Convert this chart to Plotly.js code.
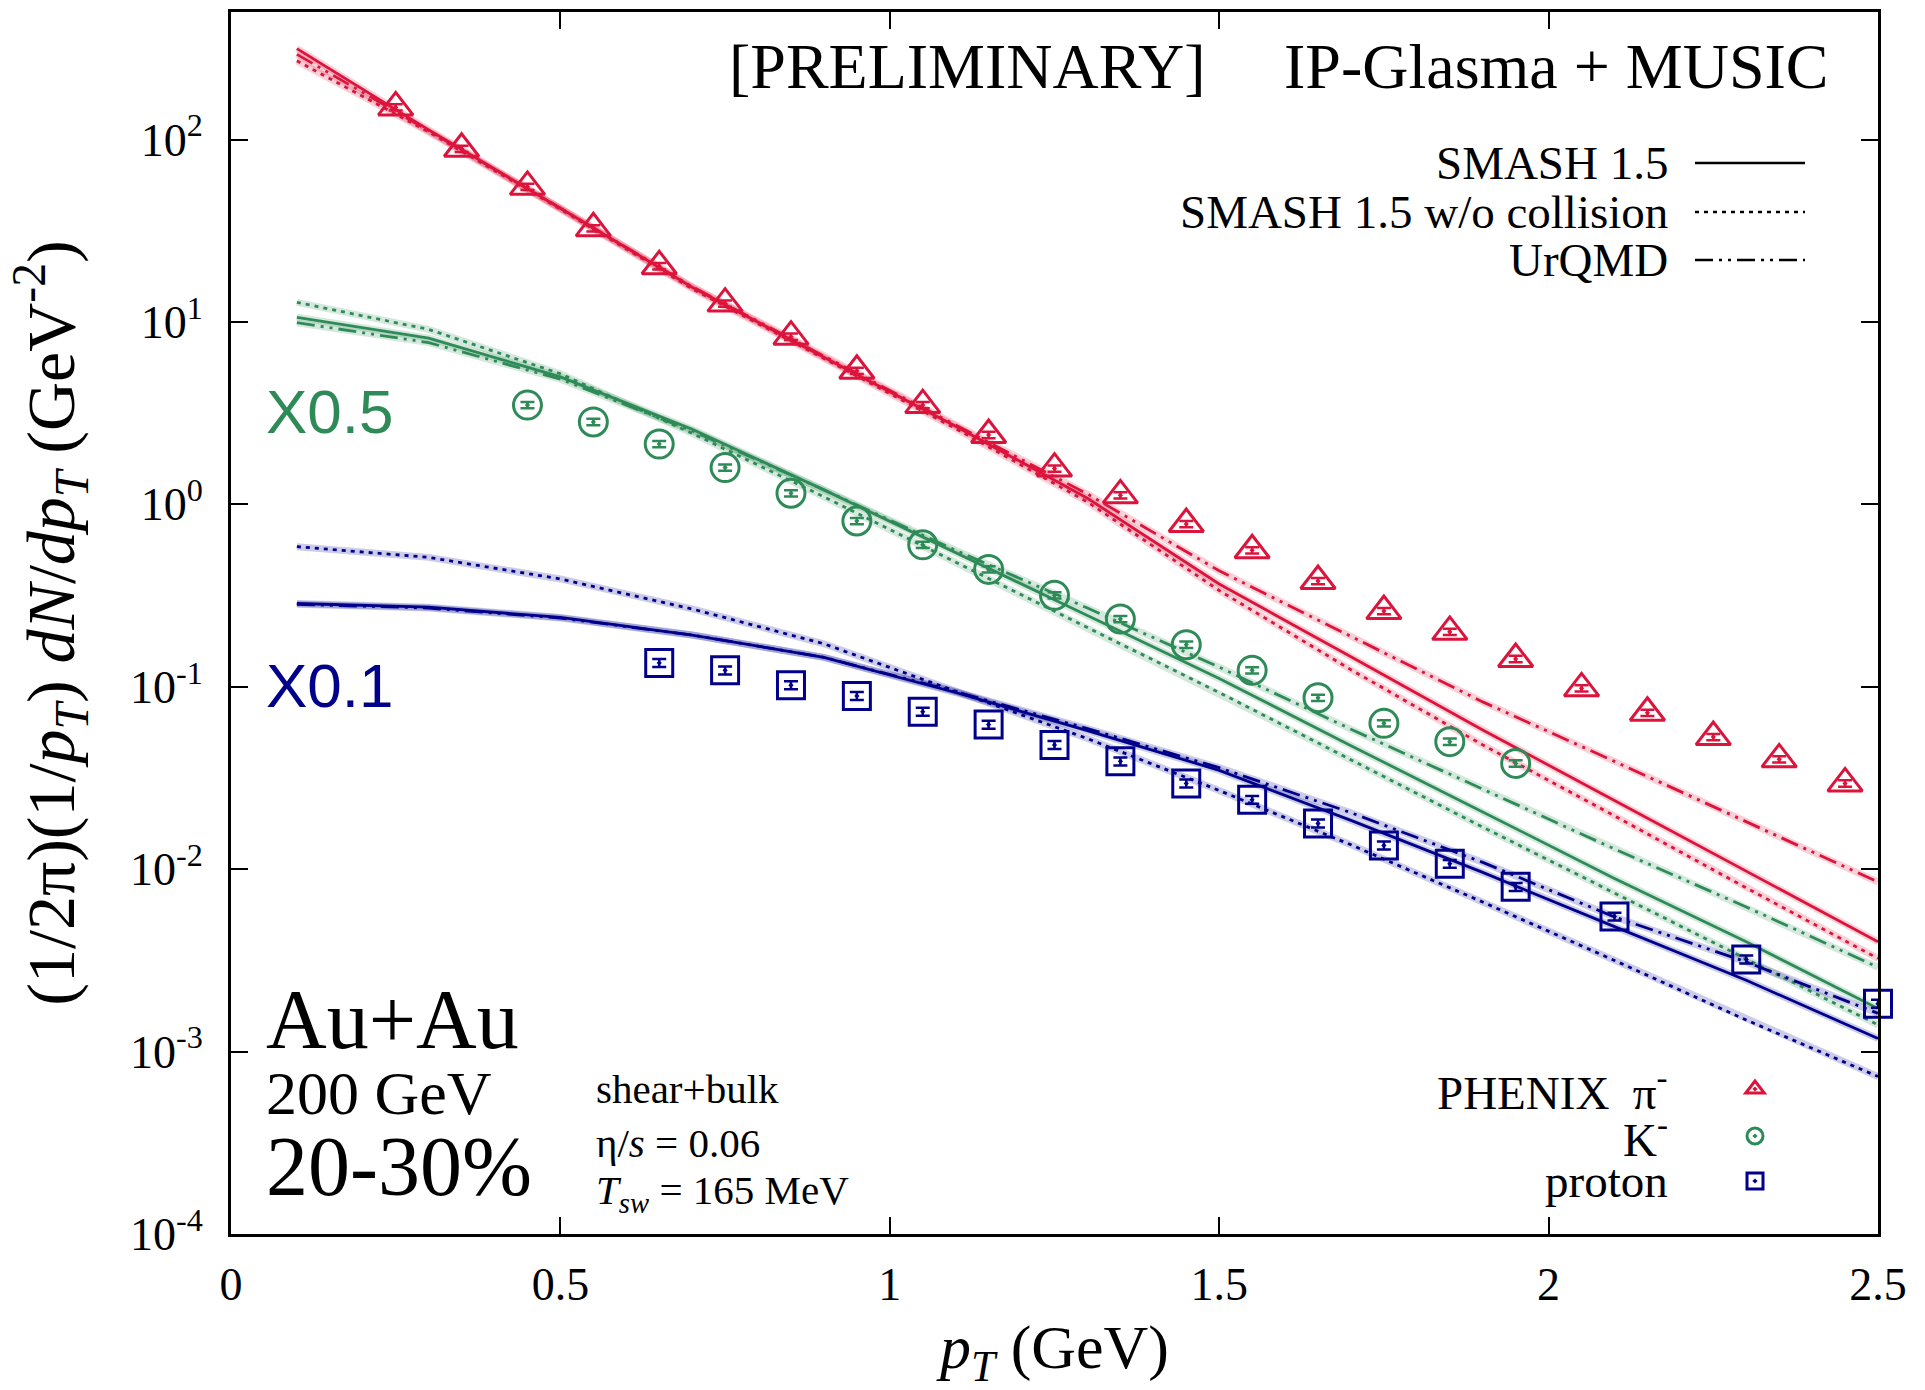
<!DOCTYPE html>
<html><head><meta charset="utf-8">
<script src="https://cdn.plot.ly/plotly-3.0.1.min.js"></script>
<style>html,body{margin:0;padding:0;background:#fff}</style>
</head><body><div id="chart" style="width:1925px;height:1390px"></div>
<script>
// ---- model curves (pT nodes, GeV) ----
const ptModel = [0.1,0.3,0.5,0.7,0.9,1.1,1.3,1.5,1.7,1.9,2.1,2.3,2.5];
const pionSmash       = [315,113,42,15.5,6.4,2.68,1.08,0.366,0.146,0.058,0.0238,0.0098,0.0040];
const pionSmashNoColl = [270,110,41.5,15.2,6.3,2.6,1.03,0.337,0.124,0.048,0.0196,0.0079,0.00324];
const pionUrqmd       = [293,112,42,15.6,6.5,2.72,1.14,0.432,0.189,0.0826,0.039,0.0182,0.0085];
const kaonSmash       = [10.6,8.15,5.0,2.58,1.20,0.545,0.246,0.111,0.0475,0.0206,0.0089,0.0040,0.00172];
const kaonSmashNoColl = [12.8,9.1,5.2,2.45,1.10,0.48,0.211,0.093,0.0396,0.017,0.0074,0.00323,0.0014];
const kaonUrqmd       = [9.9,7.7,4.85,2.53,1.2,0.56,0.27,0.128,0.0585,0.0275,0.0129,0.0062,0.0029];
const protonSmash       = [0.286,0.273,0.24,0.192,0.145,0.093,0.0575,0.0348,0.0185,0.0096,0.00484,0.00246,0.00118];
const protonSmashNoColl = [0.586,0.512,0.39,0.267,0.172,0.095,0.052,0.027,0.0136,0.0066,0.00316,0.00149,0.00073];
const protonUrqmd       = [0.283,0.270,0.238,0.192,0.145,0.094,0.059,0.036,0.0204,0.0109,0.00547,0.0031,0.00162];

// ---- PHENIX data ----
const pionPt   = [0.25,0.35,0.45,0.55,0.65,0.75,0.85,0.95,1.05,1.15,1.25,1.35,1.45,1.55,1.65,1.75,1.85,1.95,2.05,2.15,2.25,2.35,2.45];
const pionData = [150,89,55,32.6,20.2,12.6,8.3,5.4,3.5,2.4,1.57,1.12,0.78,0.56,0.38,0.26,0.20,0.142,0.098,0.072,0.053,0.040,0.0295];
const kaonPt   = [0.45,0.55,0.65,0.75,0.85,0.95,1.05,1.15,1.25,1.35,1.45,1.55,1.65,1.75,1.85,1.95];
const kaonData = [3.5,2.83,2.14,1.59,1.15,0.81,0.60,0.44,0.317,0.235,0.170,0.123,0.087,0.063,0.050,0.038];
const protonPt   = [0.65,0.75,0.85,0.95,1.05,1.15,1.25,1.35,1.45,1.55,1.65,1.75,1.85,1.95,2.1,2.3,2.5];
const protonData = [0.135,0.123,0.102,0.089,0.073,0.062,0.048,0.039,0.0295,0.024,0.0178,0.0135,0.0107,0.0080,0.0055,0.0032,0.00183];
const pionErrPct = 4, kaonErrPct = 4, protonErrPct = 5;

// ---- ticks ----
const xTickVals = [0,0.5,1,1.5,2,2.5];
const xTickText = ['0','0.5','1','1.5','2','2.5'];
const yTickVals = [1e-4,1e-3,1e-2,1e-1,1,10,100];
const yTickText = ['10<sup>-4</sup>','10<sup>-3</sup>','10<sup>-2</sup>','10<sup>-1</sup>','10<sup>0</sup>','10<sup>1</sup>','10<sup>2</sup>'];

const RED = '#DC143C', GREEN = '#2E8B57', BLUE = '#00008B';
const BAND = {[RED]:'rgba(220,20,60,0.2)', [GREEN]:'rgba(46,139,87,0.2)', [BLUE]:'rgba(0,0,139,0.2)'};
const DOT = '4px,5px';
const DASHDOT = '18px,6px,3px,6px,3px,6px';
const SERIF = '"Liberation Serif","Times New Roman",serif';
const SANS = '"Liberation Sans",Arial,sans-serif';

const traces = [];
const models = [
  [pionSmash,RED,'solid'],[pionSmashNoColl,RED,DOT],[pionUrqmd,RED,DASHDOT],
  [kaonSmash,GREEN,'solid'],[kaonSmashNoColl,GREEN,DOT],[kaonUrqmd,GREEN,DASHDOT],
  [protonSmash,BLUE,'solid'],[protonSmashNoColl,BLUE,DOT],[protonUrqmd,BLUE,DASHDOT]
];
models.forEach(([y,c,d]) => traces.push({x:ptModel,y:y,type:'scatter',mode:'lines',
  line:{color:BAND[c],width:7},showlegend:false,hoverinfo:'skip'}));
models.forEach(([y,c,d]) => traces.push({x:ptModel,y:y,type:'scatter',mode:'lines',
  line:{color:c,width:2.8,dash:d},showlegend:false}));

// legend keys for model lines
[['solid','legend'],[DOT,'legend2'],[DASHDOT,'legend3']].forEach(([d,lg]) =>
  traces.push({x:[null],y:[null],type:'scatter',mode:'lines',name:' ',legend:lg,
    line:{color:'black',width:2.6,dash:d}}));

function dataTrace(x,y,c,sym,size,err,lg){
  return {x:x,y:y,type:'scatter',mode:'markers',name:' ',legend:lg,cliponaxis:false,
    marker:{symbol:sym,size:size,color:c,line:{color:c,width:3}},
    error_y:{type:'percent',value:err,color:c,thickness:2.5,width:7}};
}
traces.push(dataTrace(pionPt,pionData,RED,'triangle-up-open-dot',30,pionErrPct,'legend4'));
traces.push(dataTrace(kaonPt,kaonData,GREEN,'circle-open-dot',28,kaonErrPct,'legend5'));
traces.push(dataTrace(protonPt,protonData,BLUE,'square-open-dot',27,protonErrPct,'legend6'));

// pixel -> paper helpers (plot area: x 231..1878, y 12..1234)
const px = v => (v-231)/1647, py = v => (1234-v)/1222;

function leg(xp,yp,w){return {x:px(xp),y:py(yp),xanchor:'left',yanchor:'middle',bgcolor:'rgba(0,0,0,0)',
  borderwidth:0,itemwidth:w,font:{size:20,family:SERIF},tracegroupgap:0};}

function ann(text,x,y,size,opts){
  return Object.assign({text:text,xref:'paper',yref:'paper',x:px(x),y:py(y),showarrow:false,
    xanchor:'left',yanchor:'middle',font:{family:SERIF,size:size,color:'black'}},opts||{});
}
const annotations = [
  ann('[PRELIMINARY]',967,67,64,{xanchor:'center'}),
  ann('IP-Glasma + MUSIC',1556,67,64,{xanchor:'center'}),
  ann('SMASH 1.5',1670,163,47,{xanchor:'right'}),
  ann('SMASH 1.5 w/o collision',1670,212,47,{xanchor:'right'}),
  ann('UrQMD',1670,260,47,{xanchor:'right'}),
  ann('PHENIX\u00a0\u00a0π<sup>-</sup>',1670,1089,47,{xanchor:'right'}),
  ann('K<sup>-</sup>',1670,1136,47,{xanchor:'right'}),
  ann('proton',1670,1181,47,{xanchor:'right'}),
  ann('X0.5',264,411,62,{font:{family:SANS,size:62,color:GREEN}}),
  ann('X0.1',264,685,62,{font:{family:SANS,size:62,color:BLUE}}),
  ann('Au+Au',264,1019,84),
  ann('200 GeV',264,1093,62),
  ann('20-30%',264,1166,84),
  ann('shear+bulk',594,1089,41),
  ann('η/<i>s</i> = 0.06',594,1143,41),
  ann('<i>T</i><sub><i>sw</i></sub> = 165 MeV',594,1193,41)
];

const axisCommon = {showline:true,linewidth:3,linecolor:'black',mirror:'ticks',ticks:'inside',
  ticklen:17,tickwidth:2,tickcolor:'black',showgrid:false,zeroline:false,
  tickfont:{family:SERIF,size:46,color:'black'}};

const layout = {
  width:1925,height:1390,
  margin:{l:231,r:47,t:12,b:156,autoexpand:false},
  paper_bgcolor:'white',plot_bgcolor:'white',
  font:{family:SERIF,color:'black'},
  xaxis:Object.assign({},axisCommon,{range:[0,2.5],tickmode:'array',tickvals:xTickVals,ticktext:xTickText,
    ticklabelstandoff:8,
    title:{text:'<i>p</i><sub><i>T</i></sub> (GeV)',font:{family:SERIF,size:62},standoff:28}}),
  yaxis:Object.assign({},axisCommon,{type:'log',range:[-4,Math.log10(500)],tickmode:'array',
    tickvals:yTickVals,ticktext:yTickText,ticklabelstandoff:16,
    title:{text:'(1/2π)(1/<i>p</i><sub><i>T</i></sub>) <i>dN</i>/<i>dp</i><sub><i>T</i></sub> (GeV<sup>-2</sup>)',
      font:{family:SERIF,size:68},standoff:34}}),
  showlegend:true,
  legend:leg(1690,163,110), legend2:leg(1690,212,110), legend3:leg(1690,260,110),
  legend4:leg(1735,1089,30), legend5:leg(1735,1136,30), legend6:leg(1735,1181,30),
  annotations:annotations
};
Plotly.newPlot('chart',traces,layout,{displayModeBar:false,responsive:false});
</script></body></html>
